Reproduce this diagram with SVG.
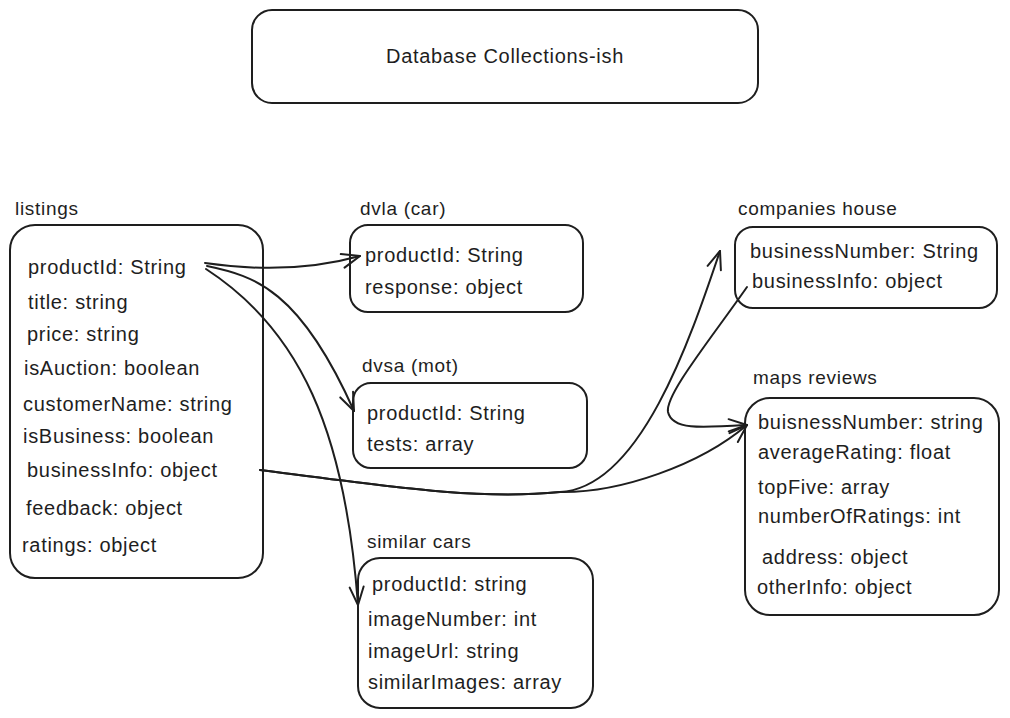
<svg xmlns="http://www.w3.org/2000/svg" width="1010" height="718" viewBox="0 0 1010 718">
  <style>
    .box { fill: none; stroke: #1e1e1e; stroke-width: 2; }
    .t { font-family: "Liberation Sans", Arial, sans-serif; font-size: 20px; letter-spacing: 0.7px; fill: #1e1e1e; }
    .lbl { font-family: "Liberation Sans", Arial, sans-serif; font-size: 19px; letter-spacing: 0.7px; fill: #1e1e1e; }
    .conn { fill: none; stroke: #1e1e1e; stroke-width: 2; stroke-linecap: round; stroke-linejoin: round; }
  </style>
  <defs>
    <marker id="arrow" viewBox="-20 -10 24 20" refX="0" refY="0" markerWidth="24" markerHeight="20" markerUnits="userSpaceOnUse" orient="auto">
      <path d="M-18,-7 L0,0 L-18,7" fill="none" stroke="#1e1e1e" stroke-width="2" stroke-linecap="round" stroke-linejoin="round"/>
    </marker>
  </defs>
  <rect width="1010" height="718" fill="#ffffff"/>

  <g id="title">
    <rect class="box" x="252" y="10" width="506" height="93" rx="20"/>
    <text class="t" x="505" y="63" text-anchor="middle">Database Collections-ish</text>
  </g>

  <g id="listings">
    <text class="lbl" x="15" y="215">listings</text>
    <rect class="box" x="10" y="225" width="253" height="353" rx="25"/>
    <text class="t" x="28" y="274">productId: String</text>
    <text class="t" x="28" y="309">title: string</text>
    <text class="t" x="27" y="341">price: string</text>
    <text class="t" x="24" y="375">isAuction: boolean</text>
    <text class="t" x="23" y="411">customerName: string</text>
    <text class="t" x="23" y="443">isBusiness: boolean</text>
    <text class="t" x="27" y="477">businessInfo: object</text>
    <text class="t" x="26" y="515">feedback: object</text>
    <text class="t" x="22" y="552">ratings: object</text>
  </g>

  <g id="dvla">
    <text class="lbl" x="360" y="215">dvla (car)</text>
    <rect class="box" x="350" y="225" width="233" height="87" rx="18"/>
    <text class="t" x="365" y="262">productId: String</text>
    <text class="t" x="365" y="294">response: object</text>
  </g>

  <g id="dvsa">
    <text class="lbl" x="362" y="372">dvsa (mot)</text>
    <rect class="box" x="353" y="383" width="234" height="85" rx="18"/>
    <text class="t" x="367" y="420">productId: String</text>
    <text class="t" x="367" y="451">tests: array</text>
  </g>

  <g id="similar-cars">
    <text class="lbl" x="367" y="548">similar cars</text>
    <rect class="box" x="358" y="558" width="235" height="150" rx="22"/>
    <text class="t" x="372" y="591">productId: string</text>
    <text class="t" x="368" y="626">imageNumber: int</text>
    <text class="t" x="368" y="658">imageUrl: string</text>
    <text class="t" x="368" y="689">similarImages: array</text>
  </g>

  <g id="companies-house">
    <text class="lbl" x="738" y="215">companies house</text>
    <rect class="box" x="735" y="227" width="262" height="81" rx="18"/>
    <text class="t" x="750" y="258">businessNumber: String</text>
    <text class="t" x="752" y="288">businessInfo: object</text>
  </g>

  <g id="maps-reviews">
    <text class="lbl" x="753" y="384">maps reviews</text>
    <rect class="box" x="745" y="398" width="254" height="217" rx="25"/>
    <text class="t" x="758" y="429">buisnessNumber: string</text>
    <text class="t" x="758" y="459">averageRating: float</text>
    <text class="t" x="758" y="494">topFive: array</text>
    <text class="t" x="758" y="523">numberOfRatings: int</text>
    <text class="t" x="762" y="564">address: object</text>
    <text class="t" x="757" y="594">otherInfo: object</text>
  </g>

  <g id="connectors">
    <path class="conn" marker-end="url(#arrow)" d="M205,263 C260,271 310,270 360,256"/>
    <path class="conn" marker-end="url(#arrow)" d="M207,266 C255,276 300,290 354,411"/>
    <path class="conn" marker-end="url(#arrow)" d="M206,269 C300,330 345,430 358,605"/>
    <path class="conn" marker-end="url(#arrow)" d="M260,470 C400,488 480,500 560,492 C640,488 690,340 720,251"/>
    <path class="conn" marker-end="url(#arrow)" d="M260,470 C400,488 480,500 560,492 C620,493 700,465 747,425"/>
    <path class="conn" marker-end="url(#arrow)" d="M747,287 C710,340 665,395 668,412 C672,430 700,428 747,425"/>
  </g>
</svg>
